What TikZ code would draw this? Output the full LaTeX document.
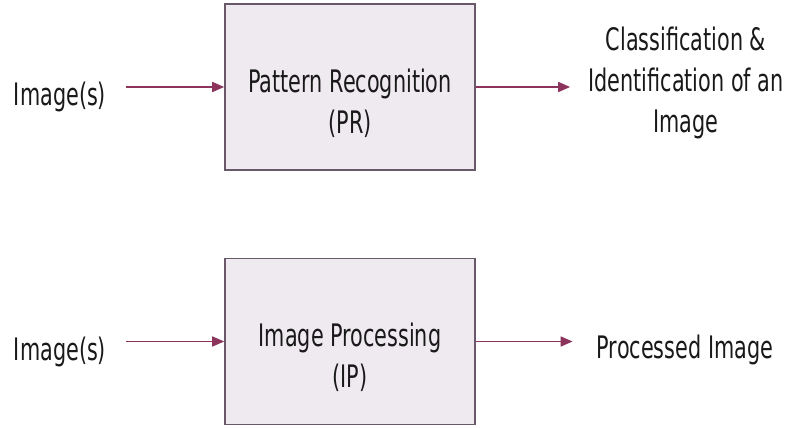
\documentclass[tikz,border=0pt]{standalone}
\usepackage{fontspec}
\setmainfont[FakeStretch=0.67]{DejaVu Sans}
\usetikzlibrary{arrows.meta}
\definecolor{arrcol}{RGB}{140,52,92}
\definecolor{boxline}{RGB}{105,88,105}
\definecolor{boxfill}{RGB}{239,233,240}
\definecolor{txt}{RGB}{25,25,25}
\tikzset{
  blk/.style={draw=boxline, line width=1.6pt, fill=boxfill, minimum width=250pt, minimum height=166pt, inner sep=0pt},
  lbl/.style={text=txt, font=\fontsize{31}{41}\selectfont, align=center, inner ysep=0pt},
  arr/.style={draw=arrcol, line width=1.6pt, -{Triangle[length=12pt,width=10pt]}},
}
\begin{document}
\begin{tikzpicture}[x=1pt,y=-1pt]
\useasboundingbox (0,0) rectangle (790,428);
% top row
\node[blk] (pr) at (350,87) {};
\node[lbl, anchor=base] (prt) at (350,133) {Pattern Recognition\\(PR)};
\node[lbl, anchor=base, inner xsep=20pt] (in1) at (60,105) {Image(s)};
\node[lbl, anchor=base, inner xsep=18pt] (out1) at (686,132) {Classification \&\\Identification of an\\Image};
\draw[arr] (in1.east |- pr.west) -- (pr.west);
\draw[arr] (pr.east) -- (out1.west |- pr.east);
% bottom row
\node[blk] (ip) at (350,341.5) {};
\node[lbl, anchor=base] (ipt) at (350,387) {Image Processing\\(IP)};
\node[lbl, anchor=base, inner xsep=20pt] (in2) at (60,360) {Image(s)};
\node[lbl, anchor=base, inner xsep=24pt] (out2) at (685,358) {Processed Image};
\draw[arr] (in2.east |- ip.west) -- (ip.west);
\draw[arr] (ip.east) -- (out2.west |- ip.east);
\end{tikzpicture}
\end{document}
